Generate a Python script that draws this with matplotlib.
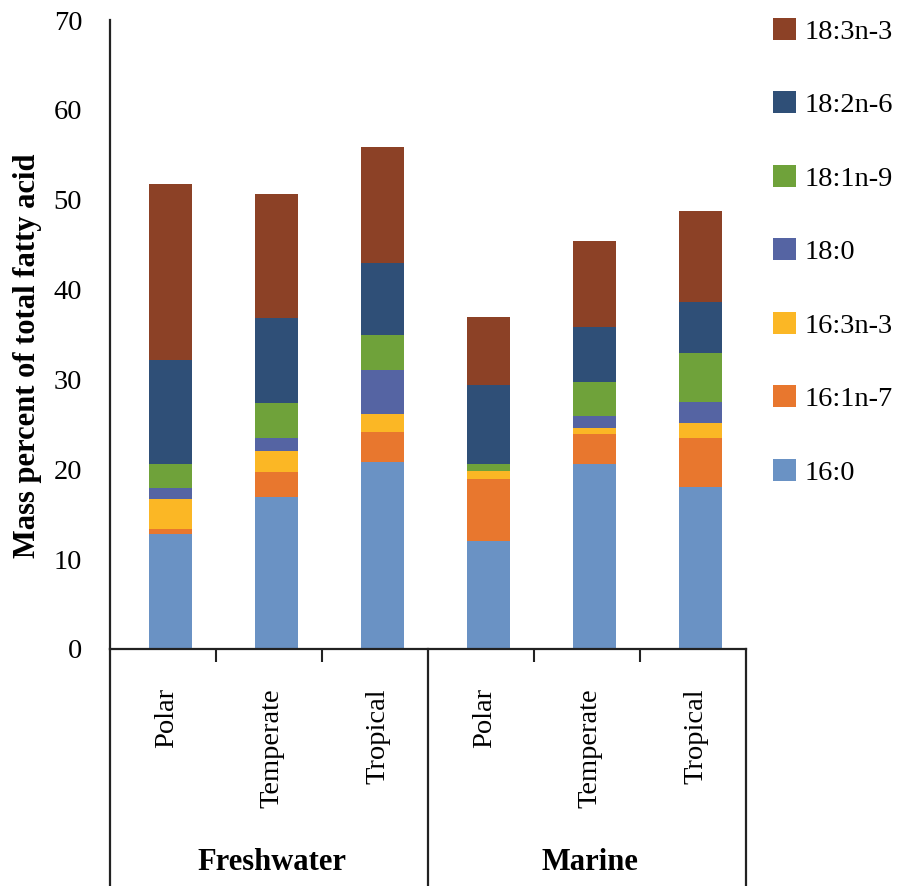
import matplotlib
matplotlib.use("Agg")
import matplotlib.pyplot as plt
import numpy as np

plt.rcParams['font.family'] = ['Liberation Serif', 'DejaVu Serif']

categories = ["Polar", "Temperate", "Tropical", "Polar", "Temperate", "Tropical"]
groups = ["Freshwater", "Marine"]
series_names = ["16:0", "16:1n-7", "16:3n-3", "18:0", "18:1n-9", "18:2n-6", "18:3n-3"]
v_16_0   = [12.8, 16.9, 20.8, 12.0, 20.6, 18.0]
v_16_1n7 = [0.6, 2.8, 3.4, 6.9, 3.3, 5.5]
v_16_3n3 = [3.3, 2.3, 1.9, 0.9, 0.7, 1.6]
v_18_0   = [1.2, 1.5, 5.0, 0.0, 1.3, 2.4]
v_18_1n9 = [2.7, 3.9, 3.9, 0.8, 3.8, 5.4]
v_18_2n6 = [11.6, 9.4, 8.0, 8.8, 6.1, 5.7]
v_18_3n3 = [19.5, 13.8, 12.9, 7.6, 9.6, 10.1]
series_values = [v_16_0, v_16_1n7, v_16_3n3, v_18_0, v_18_1n9, v_18_2n6, v_18_3n3]
colors = ["#6A92C4", "#E8772E", "#FBB725", "#5564A3", "#6FA23A", "#2F4F77", "#8C4126"]
yticks = [0, 10, 20, 30, 40, 50, 60, 70]

W, H = 901, 886
fig = plt.figure(figsize=(W / 100, H / 100), dpi=100)
ax = fig.add_axes([110 / W, 1 - 649 / H, 636 / W, 629 / H])

x = np.arange(len(categories))
bottom = np.zeros(len(categories))
handles = []
for name, vals, c in zip(series_names, series_values, colors):
    b = ax.bar(x, vals, width=0.40, bottom=bottom, color=c, edgecolor='none', label=name)
    handles.append(b)
    bottom += np.array(vals)

left_edge, right_edge = -0.57, 5.43
ax.set_xlim(left_edge, right_edge)
ax.set_ylim(0, 70)
ax.set_yticks(yticks)
ax.tick_params(axis='y', length=0, pad=20, labelsize=20.5)
ax.set_xticks([])
ax.set_xticks([0.43, 1.43, 3.43, 4.43], minor=True)
ax.tick_params(axis='x', which='minor', length=9, width=1.5, direction='out', color='#222222')
for s in ['top', 'right']:
    ax.spines[s].set_visible(False)
for s in ['left', 'bottom']:
    ax.spines[s].set_linewidth(1.6)
    ax.spines[s].set_color('#222222')

ax.set_ylabel("Mass percent of total fatty acid", fontsize=22, fontweight='bold')
ax.yaxis.set_label_coords(-(110 - 42) / 636, 0.467)

tr = ax.get_xaxis_transform()
ybot = -(H - 649) / 629
for xv in [left_edge, 2.43, right_edge]:
    ax.plot([xv, xv], [0, ybot], transform=tr, color='#222222', lw=1.6, clip_on=False)

for xi, lab in zip(x, categories):
    ax.text(xi - 0.04, -(688 - 649) / 629, lab, transform=tr, rotation=90,
            ha='center', va='top', fontsize=20.5)

for gi, g in enumerate(groups):
    ax.text(1 + 3 * gi - 0.04, -(862 - 649) / 629, g, transform=tr, ha='center',
            va='center', fontsize=22, fontweight='bold')

fig.legend(handles[::-1], series_names[::-1], loc='upper left',
           bbox_to_anchor=(773 / W, 1 - 18 / H), frameon=False, fontsize=20.5,
           handlelength=0.8, handleheight=0.8, handletextpad=0.3,
           labelspacing=1.64, borderaxespad=0, borderpad=0)

fig.savefig("out.png", dpi=100)
